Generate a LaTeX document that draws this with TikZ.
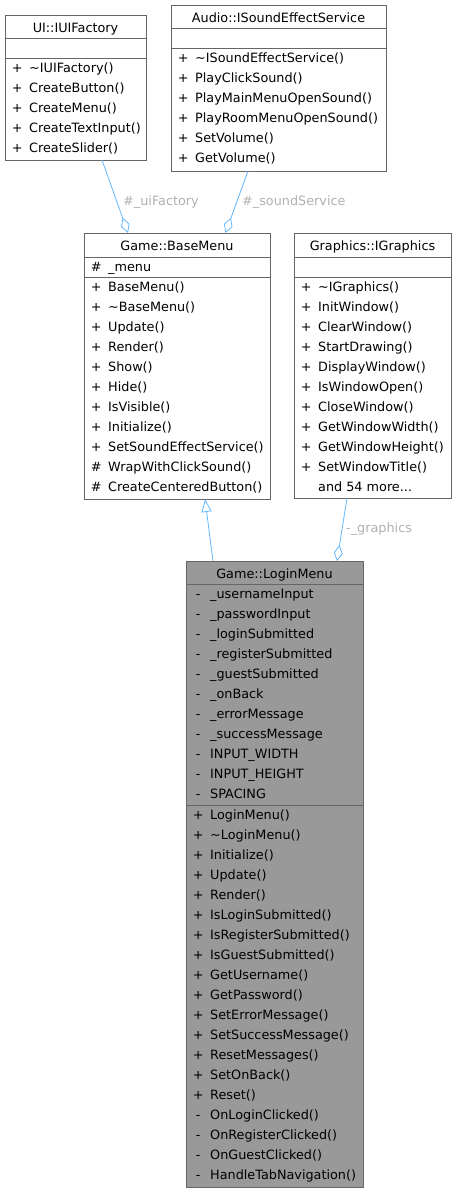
\documentclass[tikz,border=0pt]{standalone}
\usepackage{fontspec}
\setmainfont{DejaVu Sans}
\usetikzlibrary{arrows.meta}
\definecolor{boxborder}{HTML}{666666}
\definecolor{boxfill}{HTML}{999999}
\definecolor{edgeblue}{HTML}{63B8FF}
\definecolor{labelgray}{HTML}{B0B0B0}
\newcommand\sgn[1]{\makebox[10pt][c]{#1}\hspace{7pt}}
\tikzset{
  umlbox/.style={draw=boxborder, line width=0.9pt, fill=white, inner sep=0pt, outer sep=0pt, anchor=north west},
  hibox/.style={umlbox, fill=boxfill},
  sepline/.style={draw=boxborder, line width=0.9pt},
  rowtxt/.style={inner sep=0pt, anchor=base west, font=\fontsize{12.8}{14}\selectfont},
  titletxt/.style={inner sep=0pt, anchor=base, font=\fontsize{12.8}{14}\selectfont},
  lbltxt/.style={inner sep=0pt, anchor=base west, text=labelgray, font=\fontsize{12.8}{14}\selectfont},
  aggr/.style={draw=edgeblue, line width=0.8pt, -{Diamond[open,length=16pt,width=9pt]}},
  inher/.style={draw=edgeblue, line width=0.8pt, -{Triangle[open,length=13pt,width=10pt]}},
}
% #1 name prefix, #2 x, #3 first baseline, #4 list
\newcommand\umlrows[4]{%
  \foreach \t [count=\i from 0] in {#4} {%
    \node[rowtxt] (#1-\i) at (#2+7, #3+20*\i) {\t};
  }%
}
\begin{document}
\begin{tikzpicture}[x=1pt,y=-1pt]
\useasboundingbox (0,0) rectangle (457,1192);

% ---------- UI::IUIFactory ----------
\node[umlbox, minimum width=141pt, minimum height=145pt] (uif) at (5,15) {};
\draw[sepline] (5,38) -- (146,38);
\draw[sepline] (5,58) -- (146,58);
\node[titletxt] (uif-title) at (75.5,32.5) {UI::IUIFactory};
\umlrows{uifm}{5}{72}{\sgn{+}\textasciitilde IUIFactory(),\sgn{+}CreateButton(),\sgn{+}CreateMenu(),\sgn{+}CreateTextInput(),\sgn{+}CreateSlider()}

% ---------- Audio::ISoundEffectService ----------
\node[umlbox, minimum width=215pt, minimum height=166pt] (snd) at (171,5) {};
\draw[sepline] (171,28) -- (386,28);
\draw[sepline] (171,48) -- (386,48);
\node[titletxt] (snd-title) at (278.5,22.5) {Audio::ISoundEffectService};
\umlrows{sndm}{171}{62}{\sgn{+}\textasciitilde ISoundEffectService(),\sgn{+}PlayClickSound(),\sgn{+}PlayMainMenuOpenSound(),\sgn{+}PlayRoomMenuOpenSound(),\sgn{+}SetVolume(),\sgn{+}GetVolume()}

% ---------- Game::BaseMenu ----------
\node[umlbox, minimum width=186pt, minimum height=266pt] (base) at (84,233) {};
\draw[sepline] (84,257) -- (270,257);
\draw[sepline] (84,277) -- (270,277);
\node[titletxt] (base-title) at (177,250.5) {Game::BaseMenu};
\umlrows{basea}{84}{271}{\sgn{\#}\_menu}
\umlrows{basem}{84}{291}{\sgn{+}BaseMenu(),\sgn{+}\textasciitilde BaseMenu(),\sgn{+}Update(),\sgn{+}Render(),\sgn{+}Show(),\sgn{+}Hide(),\sgn{+}IsVisible(),\sgn{+}Initialize(),\sgn{+}SetSoundEffectService(),\sgn{\#}WrapWithClickSound(),\sgn{\#}CreateCenteredButton()}

% ---------- Graphics::IGraphics ----------
\node[umlbox, minimum width=157pt, minimum height=265pt] (gfx) at (294,233) {};
\draw[sepline] (294,257) -- (451,257);
\draw[sepline] (294,277) -- (451,277);
\node[titletxt] (gfx-title) at (372.5,250.5) {Graphics::IGraphics};
\umlrows{gfxm}{294}{291}{\sgn{+}\textasciitilde IGraphics(),\sgn{+}InitWindow(),\sgn{+}ClearWindow(),\sgn{+}StartDrawing(),\sgn{+}DisplayWindow(),\sgn{+}IsWindowOpen(),\sgn{+}CloseWindow(),\sgn{+}GetWindowWidth(),\sgn{+}GetWindowHeight(),\sgn{+}SetWindowTitle(),\sgn{}and 54 more.{}.{}.}

% ---------- Game::LoginMenu ----------
\node[hibox, minimum width=177pt, minimum height=626pt] (login) at (186,561) {};
\draw[sepline] (186,584) -- (363,584);
\draw[sepline] (186,805) -- (363,805);
\node[titletxt] (login-title) at (274.5,578.5) {Game::LoginMenu};
\umlrows{logina}{186}{598}{\sgn{-}\_usernameInput,\sgn{-}\_passwordInput,\sgn{-}\_loginSubmitted,\sgn{-}\_registerSubmitted,\sgn{-}\_guestSubmitted,\sgn{-}\_onBack,\sgn{-}\_errorMessage,\sgn{-}\_successMessage,\sgn{-}INPUT\_WIDTH,\sgn{-}INPUT\_HEIGHT,\sgn{-}SPACING}
\umlrows{loginm}{186}{819}{\sgn{+}LoginMenu(),\sgn{+}\textasciitilde LoginMenu(),\sgn{+}Initialize(),\sgn{+}Update(),\sgn{+}Render(),\sgn{+}IsLoginSubmitted(),\sgn{+}IsRegisterSubmitted(),\sgn{+}IsGuestSubmitted(),\sgn{+}GetUsername(),\sgn{+}GetPassword(),\sgn{+}SetErrorMessage(),\sgn{+}SetSuccessMessage(),\sgn{+}ResetMessages(),\sgn{+}SetOnBack(),\sgn{+}Reset(),\sgn{-}OnLoginClicked(),\sgn{-}OnRegisterClicked(),\sgn{-}OnGuestClicked(),\sgn{-}HandleTabNavigation()}

% ---------- connectors ----------
\coordinate (e1s) at (102,160);
\coordinate (e1e) at (128,233);
\coordinate (e2s) at (248,171);
\coordinate (e2e) at (225.5,233);
\coordinate (e3s) at (213,561);
\coordinate (e3e) at (205,499);
\coordinate (e4s) at (347,498);
\coordinate (e4e) at (337,561);
\draw[aggr] (e1s) -- (e1e);
\draw[aggr] (e2s) -- (e2e);
\draw[inher] (e3s) -- (e3e);
\draw[aggr] (e4s) -- (e4e);
\node[lbltxt] (l1) at (123,205.5) {\#\_uiFactory};
\node[lbltxt] (l2) at (242,205.5) {\#\_soundService};
\node[lbltxt] (l4) at (346,532) {-\_graphics};
\end{tikzpicture}
\end{document}
